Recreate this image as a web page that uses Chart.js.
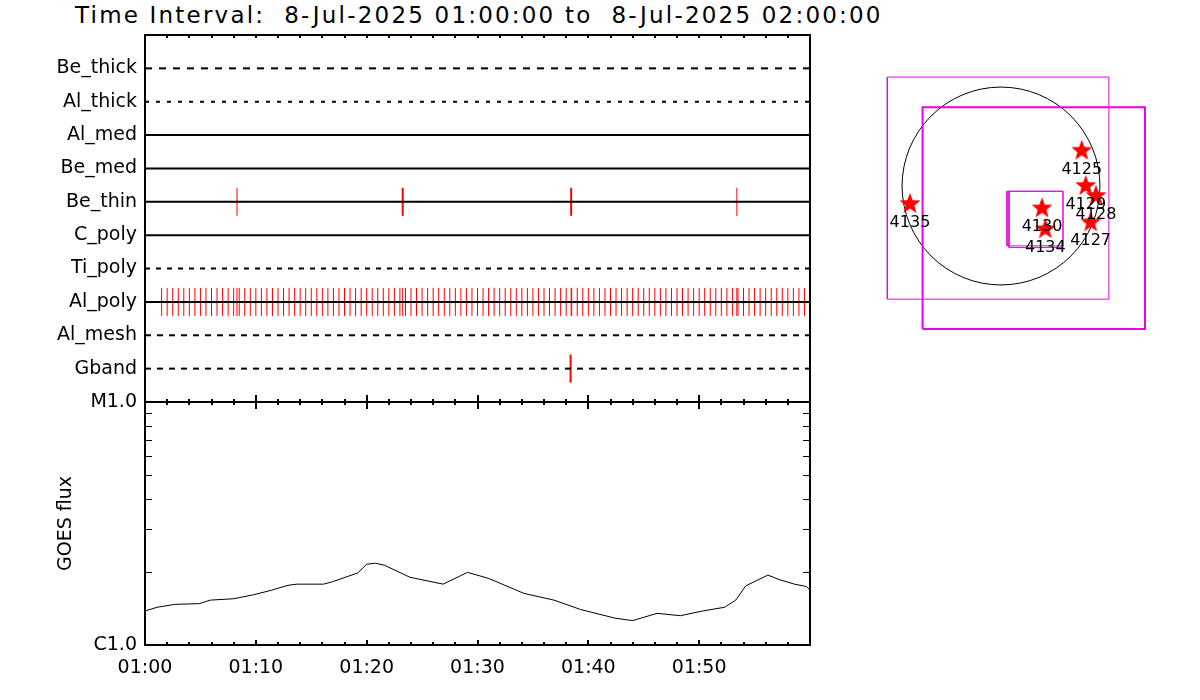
<!DOCTYPE html>
<html>
<head>
<meta charset="utf-8">
<script src="https://cdn.jsdelivr.net/npm/chart.js@4.4.1/dist/chart.umd.min.js"></script>
<style>
  body { margin: 0; background: #fff; width: 1200px; height: 700px; overflow: hidden; position: relative; font-family: "DejaVu Sans"; }
  #title { position: absolute; left: 75px; top: 2px; font-size: 23px; letter-spacing: 2.2px; white-space: pre; color: #000; }
  canvas { position: absolute; }
  #filters { left: 0; top: 0; }
  #goes { left: 0; top: 390px; }
  #sunmap { left: 850px; top: 36px; }
</style>
</head>
<body>
<div id="title">Time Interval:  8-Jul-2025 01:00:00 to  8-Jul-2025 02:00:00</div>
<canvas id="filters" width="840" height="410"></canvas>
<canvas id="goes" width="840" height="310"></canvas>
<canvas id="sunmap" width="340" height="320"></canvas>
<script>
// filter wheel rows (top to bottom)
const filterNames = ["Be_thick", "Al_thick", "Al_med", "Be_med", "Be_thin", "C_poly", "Ti_poly", "Al_poly", "Al_mesh", "Gband"];
const filterDash = [[7, 7], [4, 7], [], [], [], [], [5, 6], [], [6, 6], [6, 6]];

// exposure times, minutes after 01:00
const beThinTimes = [8.3, 23.25, 38.45, 53.4];
const beThinWidths = [1, 2, 2, 1];
const gbandTimes = [38.4];
const alPolyTimes = [1.5, 2, 2.5, 3, 3.5, 4, 4.5, 5, 5.5, 6, 6.5, 7, 7.5, 8, 8.3, 8.5, 9, 9.5, 10,
  10.5, 11, 11.5, 12, 12.5, 13, 13.5, 14, 14.5, 15, 15.5, 16, 16.5, 17, 17.5, 18, 18.5, 19, 19.5, 20,
  20.5, 21, 21.5, 22, 22.5, 23, 23.25, 23.5, 24, 24.5, 25, 25.5, 26, 26.5, 27, 27.5, 28, 28.5, 29, 29.5, 30,
  30.5, 31, 31.5, 32, 32.5, 33, 33.5, 34, 34.5, 35, 35.5, 36, 36.5, 37, 37.5, 38, 38.45, 38.5, 39, 39.5, 40,
  40.5, 41, 41.5, 42, 42.5, 43, 43.5, 44, 44.5, 45, 45.5, 46, 46.5, 47, 47.5, 48, 48.5, 49, 49.5, 50,
  50.5, 51, 51.5, 52, 52.5, 53, 53.4, 53.5, 54, 54.5, 55, 55.5, 56, 56.5, 57, 57.5, 58, 58.5, 59, 59.5];

// GOES 1-8 A flux
const goesMinutes = [0, 1.1, 2.7, 4.9, 5.9, 8.0, 9.8, 11.4, 12.9, 13.7, 16.1, 16.9, 19.2, 20.0, 20.8, 21.6, 23.9, 26.9,
  29.1, 31.0, 34.2, 36.9, 39.3, 42.4, 44.0, 46.2, 48.3, 50.3, 52.3, 53.3, 54.2, 56.2, 57.2, 58.6, 59.7, 60];
const goesFlux = [1.38e-6, 1.43e-6, 1.47e-6, 1.48e-6, 1.53e-6, 1.55e-6, 1.61e-6, 1.68e-6, 1.76e-6, 1.78e-6, 1.78e-6, 1.82e-6,
  1.98e-6, 2.15e-6, 2.17e-6, 2.13e-6, 1.90e-6, 1.78e-6, 1.99e-6, 1.88e-6, 1.63e-6, 1.53e-6, 1.40e-6, 1.29e-6,
  1.26e-6, 1.35e-6, 1.32e-6, 1.38e-6, 1.43e-6, 1.53e-6, 1.75e-6, 1.94e-6, 1.86e-6, 1.78e-6, 1.74e-6, 1.68e-6];

// axis ticks
const tickMinutes = [0, 10, 20, 30, 40, 50];
const timeLabels = ["01:00", "01:10", "01:20", "01:30", "01:40", "01:50"];
const fluxTicks = [1e-6, 1e-5];
const fluxLabels = ["C1.0", "M1.0"];
const fluxMinorTicks = [2e-6, 3e-6, 4e-6, 5e-6, 6e-6, 7e-6, 8e-6, 9e-6];

// sun map, arcsec
const sunRadius = 940;
const fovBoxes = [[-1080, -1075, 1025, 1035], [-745, -1358, 1368, 748], [57, -569, 589, -50], [76, -585, 589, -50]];
const fovWidths = [1, 2, 1, 1];
const arNumbers = ["4125", "4129", "4128", "4127", "4130", "4134", "4135"];
const arX = [767, 805, 902, 852, 390, 421, -865];
const arY = [335, 0, -95, -345, -212, -411, -171];

Chart.defaults.font.family = "'DejaVu Sans'";
Chart.defaults.color = "#000";
Chart.defaults.animation = false;

// draw minor/major ticks along a horizontal edge
function tickRow(ctx, xs, y, up, down, upMajor, downMajor) {
  for (let m = 0; m <= 60; m += 2) {
    const px = Math.round(xs.getPixelForValue(m));
    const major = m % 10 === 0;
    const u = major ? upMajor : up;
    const d = major ? downMajor : down;
    if (u + d > 0) {
      ctx.moveTo(px, y - u);
      ctx.lineTo(px, y + d);
    }
  }
}

// box around plot area with inward ticks
const frame = {
  id: "frame",
  afterDraw(chart, args, o) {
    const {ctx, chartArea: a, scales} = chart;
    ctx.save();
    ctx.strokeStyle = "#000";
    ctx.lineWidth = 2;
    ctx.strokeRect(a.left, a.top, a.right - a.left, a.bottom - a.top);
    ctx.beginPath();
    if (o.top) tickRow(ctx, scales.x, a.top, ...o.top);
    if (o.bottom) tickRow(ctx, scales.x, a.bottom, ...o.bottom);
    ctx.stroke();
    if (o.logTicks) {
      ctx.lineWidth = 1;
      ctx.beginPath();
      for (const v of o.logTicks) {
        const py = Math.round(scales.y.getPixelForValue(v)) + 0.5;
        ctx.moveTo(a.left, py);
        ctx.lineTo(a.left + 7, py);
        ctx.moveTo(a.right, py);
        ctx.lineTo(a.right - 7, py);
      }
      ctx.stroke();
    }
    ctx.restore();
  }
};

// fixed axis box sizes, no label overhang padding
function fixWidth(s) {
  s.width = 145;
  s.paddingTop = 0;
  s.paddingBottom = 0;
}

// filter rows chart
const rowDatasets = filterNames.map((name, i) => ({
  data: [{x: 0, y: name}, {x: 60, y: name}],
  borderColor: "#000",
  borderWidth: 2,
  borderDash: filterDash[i],
  pointRadius: 0
}));

function markSet(times, row, widths) {
  return {
    data: times.map(t => ({x: t, y: row})),
    showLine: false,
    pointStyle: "line",
    pointRotation: 90,
    pointRadius: 14,
    pointBorderColor: "#ff0000",
    pointBorderWidth: widths
  };
}

new Chart(document.getElementById("filters"), {
  type: "line",
  data: {
    datasets: [
      ...rowDatasets,
      markSet(beThinTimes, "Be_thin", beThinWidths),
      markSet(alPolyTimes, "Al_poly", 1),
      markSet(gbandTimes, "Gband", 2)
    ]
  },
  options: {
    responsive: false,
    events: [],
    layout: {autoPadding: false, padding: {top: 35, right: 30, bottom: 8, left: 0}},
    scales: {
      x: {type: "linear", min: 0, max: 60, display: false},
      y: {
        type: "category",
        labels: [" ", ...filterNames, "  "],
        offset: false,
        afterFit: fixWidth,
        grid: {display: false, drawTicks: false},
        border: {display: false},
        ticks: {autoSkip: false, padding: 8, font: {size: 19}}
      }
    },
    plugins: {
      legend: {display: false},
      tooltip: {enabled: false},
      frame: {top: [0, 3, 0, 3]}
    }
  },
  plugins: [frame]
});

// GOES chart
new Chart(document.getElementById("goes"), {
  type: "line",
  data: {
    datasets: [{
      data: goesMinutes.map((m, i) => ({x: m, y: goesFlux[i]})),
      borderColor: "#000",
      borderWidth: 1,
      pointRadius: 0,
      tension: 0
    }]
  },
  options: {
    responsive: false,
    events: [],
    layout: {autoPadding: false, padding: {top: 12, right: 30, bottom: 0, left: 0}},
    scales: {
      x: {
        type: "linear", min: 0, max: 60,
        afterBuildTicks: s => { s.ticks = tickMinutes.map(v => ({value: v})); },
        afterFit: s => { s.height = 55; s.paddingLeft = 0; s.paddingRight = 0; },
        grid: {display: false, drawTicks: false},
        border: {display: false},
        ticks: {autoSkip: false, maxRotation: 0, padding: 12, font: {size: 19}, callback: (v, i) => timeLabels[i]}
      },
      y: {
        type: "logarithmic", min: 1e-6, max: 1e-5,
        afterBuildTicks: s => { s.ticks = fluxTicks.map(v => ({value: v})); },
        afterFit: fixWidth,
        grid: {display: false, drawTicks: false},
        border: {display: false},
        ticks: {padding: 8, font: {size: 19}, callback: (v, i) => fluxLabels[i]},
        title: {display: true, text: "GOES flux", font: {size: 19}, padding: {top: 55, bottom: 0}}
      }
    },
    plugins: {
      legend: {display: false},
      tooltip: {enabled: false},
      frame: {top: [3, 3, 7, 7], bottom: [3, 0, 5, 0], logTicks: fluxMinorTicks}
    }
  },
  plugins: [frame]
});

// filled red star used as point style
function makeStar(r) {
  const c = document.createElement("canvas");
  c.width = c.height = 2 * r + 2;
  const g = c.getContext("2d");
  g.fillStyle = "#ff0000";
  g.beginPath();
  for (let i = 0; i < 10; i++) {
    const ang = -Math.PI / 2 + i * Math.PI / 5;
    const rr = i % 2 ? r * 0.42 : r;
    g.lineTo(r + 1 + rr * Math.cos(ang), r + 1 + rr * Math.sin(ang));
  }
  g.closePath();
  g.fill();
  return c;
}

// solar limb + AR numbers
const sunPlugin = {
  id: "sun",
  beforeDatasetsDraw(chart) {
    const {ctx, scales: {x, y}} = chart;
    const cx = x.getPixelForValue(0);
    const cy = y.getPixelForValue(0);
    const r = x.getPixelForValue(sunRadius) - cx;
    ctx.save();
    ctx.strokeStyle = "#000";
    ctx.lineWidth = 1;
    ctx.beginPath();
    ctx.arc(cx, cy, r, 0, Math.PI * 2);
    ctx.stroke();
    ctx.restore();
  },
  afterDatasetsDraw(chart) {
    const {ctx} = chart;
    const meta = chart.getDatasetMeta(chart.data.datasets.length - 1);
    ctx.save();
    ctx.fillStyle = "#000";
    ctx.font = "16px 'DejaVu Sans'";
    ctx.textAlign = "center";
    ctx.textBaseline = "middle";
    meta.data.forEach((pt, i) => ctx.fillText(arNumbers[i], pt.x, pt.y + 19));
    ctx.restore();
  }
};

const boxSets = fovBoxes.map((b, i) => ({
  data: [{x: b[0], y: b[1]}, {x: b[2], y: b[1]}, {x: b[2], y: b[3]}, {x: b[0], y: b[3]}, {x: b[0], y: b[1]}],
  showLine: true,
  borderColor: "rgb(235, 0, 235)",
  borderWidth: fovWidths[i],
  pointRadius: 0
}));

new Chart(document.getElementById("sunmap"), {
  type: "scatter",
  data: {
    datasets: [
      ...boxSets,
      {
        data: arX.map((v, i) => ({x: v, y: arY[i]})),
        pointStyle: makeStar(11),
        pointRadius: 11
      }
    ]
  },
  options: {
    responsive: false,
    events: [],
    layout: {autoPadding: false, padding: 0},
    scales: {
      x: {type: "linear", min: -1434.5, max: 1795.5, display: false},
      y: {type: "linear", min: -1615, max: 1425, display: false}
    },
    plugins: {legend: {display: false}, tooltip: {enabled: false}}
  },
  plugins: [sunPlugin]
});
</script>
</body>
</html>
